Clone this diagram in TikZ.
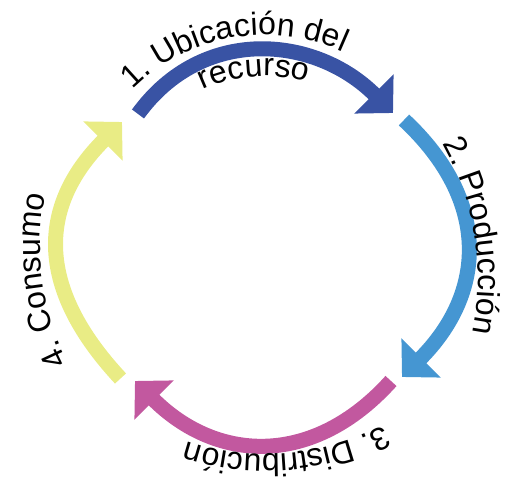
\documentclass[tikz,border=0pt]{standalone}
\usepackage{fontspec}
\setmainfont{Liberation Sans}
\usepackage{tikz}
\usetikzlibrary{arrows.meta, decorations.text}

\definecolor{ubicblue}{RGB}{57,83,164}
\definecolor{prodblue}{RGB}{69,150,210}
\definecolor{distpink}{RGB}{194,88,159}
\definecolor{consyellow}{RGB}{233,236,133}
\newcommand{\labfont}{\fontsize{32}{38}\selectfont}

\begin{document}
\begin{tikzpicture}[x=1pt, y=1pt,
		cyclearrow/.style={line width=15pt, -{Triangle[width=54pt,length=27pt]}},
		cyclelabel/.style={decorate, decoration={text along path, text align=center, text={|\labfont|#1}}}]
			\useasboundingbox (0,0) rectangle (514,486);
			\coordinate (ubicS) at (138,372);
			\coordinate (ubicE) at (393,373);
			\coordinate (prodS) at (404,366);
			\coordinate (prodE) at (402,109);
			\coordinate (distS) at (391,105);
			\coordinate (distE) at (135,105);
			\coordinate (consS) at (120.5,107.5);
			\coordinate (consE) at (122,364);
			\draw[cyclearrow, ubicblue] (ubicS) to[out=54, in=135, looseness=1.1] (ubicE);
			\draw[cyclearrow, prodblue] (prodS) to[out=-43, in=45, looseness=1.18] (prodE);
			\draw[cyclearrow, distpink] (distS) to[out=228, in=-45, looseness=1.16] (distE);
			\draw[cyclearrow, consyellow] (consS) to[out=133, in=225, looseness=1.21] (consE);
			\path[cyclelabel={1. Ubicación del}] (265,263) ++(140.2:188) arc[start angle=140.2, end angle=60.2, radius=188];
			\path[cyclelabel={recurso}] (265,263) ++(124.2:147) arc[start angle=124.2, end angle=64.2, radius=147];
			\path[cyclelabel={2. Producción}] (200,207) ++(34:278) arc[start angle=34, end angle=-16, radius=278];
			\path[cyclelabel={3. Distribución}] (266,284) ++(-55.3:252) arc[start angle=-55.3, end angle=-115.3, radius=252];
			\path[cyclelabel={4. Consumo}] (292,239) ++(212.6:252) arc[start angle=212.6, end angle=162.6, radius=252];
		\end{tikzpicture}
\end{document}
